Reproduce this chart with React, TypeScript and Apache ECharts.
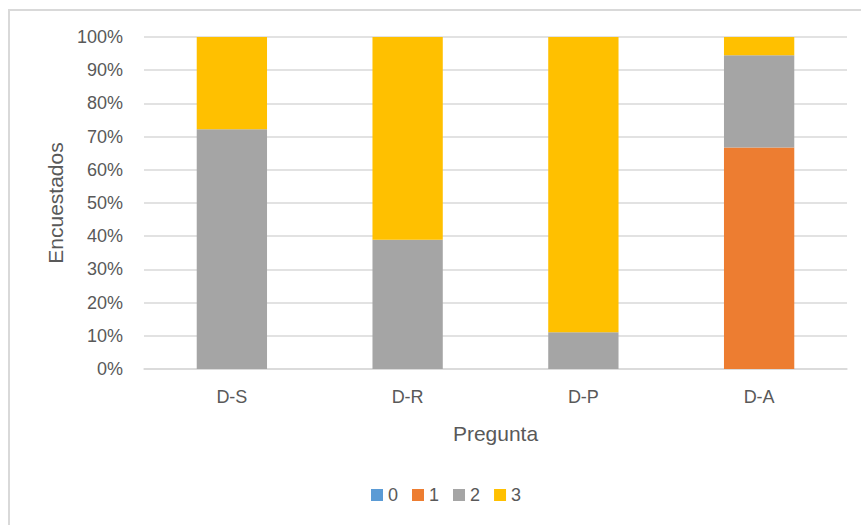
import React, { useEffect, useRef } from "react";
import * as echarts from "echarts";

const categories = ["D-S", "D-R", "D-P", "D-A"];
const seriesNames = ["0", "1", "2", "3"];
const values0 = [0, 0, 0, 0];
const values1 = [0, 0, 0, 66.7];
const values2 = [72.2, 38.9, 11.1, 27.8];
const values3 = [27.8, 61.1, 88.9, 5.5];
const colors = ["#5B9BD5", "#ED7D31", "#A5A5A5", "#FFC000"];
const yTicks = [0, 10, 20, 30, 40, 50, 60, 70, 80, 90, 100];

export default function App() {
  const ref = useRef<HTMLDivElement>(null);
  useEffect(() => {
    if (!ref.current) return;
    const chart = echarts.init(ref.current, undefined, { renderer: "svg" });
    const font = "'Liberation Sans', Arial, sans-serif";
    const all = [values0, values1, values2, values3];
    chart.setOption({
      animation: false,
      textStyle: { fontFamily: font },
      grid: { left: 144, right: 14, top: 37, bottom: 156 },
      legend: {
        data: seriesNames,
        bottom: 16,
        left: 366,
        icon: "rect",
        itemWidth: 12,
        itemHeight: 12,
        itemGap: 14,
        textStyle: { color: "#595959", fontSize: 18, fontFamily: font },
      },
      xAxis: {
        type: "category",
        data: categories,
        name: "Pregunta",
        nameLocation: "middle",
        nameGap: 54,
        nameTextStyle: { color: "#595959", fontSize: 21, fontFamily: font },
        axisLine: { lineStyle: { color: "#D9D9D9", width: 1.5 } },
        axisTick: { show: false },
        axisLabel: { color: "#595959", fontSize: 18, margin: 19, fontFamily: font },
      },
      yAxis: {
        type: "value",
        min: 0,
        max: 100,
        interval: 10,
        name: "Encuestados",
        nameLocation: "middle",
        nameGap: 76,
        nameTextStyle: { color: "#595959", fontSize: 21, fontFamily: font },
        axisLine: { show: false },
        axisTick: { show: false },
        splitLine: { lineStyle: { color: "#D9D9D9", width: 1.5 } },
        axisLabel: {
          color: "#595959",
          fontSize: 18,
          margin: 21,
          fontFamily: font,
          formatter: (v: number) => (yTicks.includes(v) ? v + "%" : ""),
        },
      },
      series: seriesNames.map((n, i) => ({
        name: n,
        type: "bar",
        stack: "total",
        data: all[i],
        barWidth: "40%",
        itemStyle: { color: colors[i] },
      })),
    });
    return () => chart.dispose();
  }, []);
  return (
    <div
      style={{
        position: "absolute",
        left: 0,
        top: 0,
        width: 861,
        height: 525,
        background: "#fff",
        overflow: "hidden",
      }}
    >
      <div ref={ref} style={{ position: "absolute", left: 0, top: 0, width: 861, height: 525 }} />
      <div
        style={{
          position: "absolute",
          left: 8,
          top: 9,
          width: 870,
          height: 530,
          border: "2px solid #D9D9D9",
          boxSizing: "border-box",
          pointerEvents: "none",
        }}
      />
    </div>
  );
}
